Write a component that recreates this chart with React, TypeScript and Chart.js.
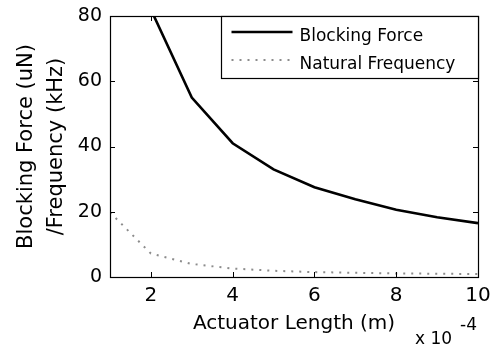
import React, { useEffect, useRef } from "react";
import { Chart, registerables } from "chart.js";

Chart.register(...registerables);

// Actuator length in units of 1e-4 m
const lengths = [1, 2, 3, 4, 5, 6, 7, 8, 9, 10];
const blockingForce = [160, 82, 55, 41, 33, 27.5, 23.8, 20.6, 18.3, 16.5];
const naturalFrequency = [19.8, 7.2, 4.0, 2.6, 1.9, 1.5, 1.3, 1.1, 1.0, 0.9];
const xTicks = [2, 4, 6, 8, 10];
const yTicks = [0, 20, 40, 60, 80];
const seriesLabels = ["Blocking Force", "Natural Frequency"];
const xTitle = "Actuator Length (m)";
const yTitle = ["Blocking Force (uN)", "/Frequency (kHz)"];
const exponentBase = "x 10";
const exponentPower = "-4";

const FONT = "'DejaVu Sans', 'Liberation Sans', sans-serif";

const framePlugin = {
  id: "matlabFrame",
  afterDatasetsDraw(chart: any) {
    const { ctx, chartArea } = chart;
    const { left, right, top, bottom } = chartArea;
    const xs = chart.scales.x;
    const ys = chart.scales.y;
    ctx.save();
    ctx.strokeStyle = "#000";
    ctx.lineWidth = 1;
    // inward ticks
    const tl = 5;
    ctx.beginPath();
    xs.ticks.forEach((t: any) => {
      const px = Math.round(xs.getPixelForValue(t.value)) + 0.5;
      ctx.moveTo(px, bottom);
      ctx.lineTo(px, bottom - tl);
      ctx.moveTo(px, top);
      ctx.lineTo(px, top + tl);
    });
    ys.ticks.forEach((t: any) => {
      const py = Math.round(ys.getPixelForValue(t.value)) + 0.5;
      ctx.moveTo(left, py);
      ctx.lineTo(left + tl, py);
      ctx.moveTo(right, py);
      ctx.lineTo(right - tl, py);
    });
    ctx.stroke();
    // box
    ctx.lineWidth = 1.2;
    ctx.strokeRect(Math.round(left) + 0.5, Math.round(top) + 0.5, Math.round(right - left), Math.round(bottom - top));

    // legend
    const lx0 = Math.round(xs.getPixelForValue(3.72)) + 0.5;
    const ly1 = Math.round(ys.getPixelForValue(61)) + 0.5;
    ctx.fillStyle = "#fff";
    ctx.fillRect(lx0, top + 0.5, right - lx0, ly1 - top);
    ctx.strokeStyle = "#000";
    ctx.lineWidth = 1.2;
    ctx.strokeRect(lx0, Math.round(top) + 0.5, Math.round(right - lx0), ly1 - Math.round(top) - 0.5);
    const ds = chart.data.datasets;
    const rows = [32, 60];
    const textBase = [40.5, 68.5];
    ds.forEach((d: any, i: number) => {
      ctx.save();
      ctx.strokeStyle = d.borderColor;
      ctx.lineWidth = d.borderWidth;
      ctx.setLineDash(d.borderDash || []);
      ctx.beginPath();
      ctx.moveTo(lx0 + 10, rows[i]);
      ctx.lineTo(lx0 + 71, rows[i]);
      ctx.stroke();
      ctx.restore();
      ctx.fillStyle = "#000";
      ctx.font = `17px ${FONT}`;
      ctx.textAlign = "left";
      ctx.textBaseline = "alphabetic";
      ctx.fillText(d.label, lx0 + 78, textBase[i]);
    });

    // exponent label
    ctx.fillStyle = "#000";
    ctx.font = `17px ${FONT}`;
    ctx.textAlign = "left";
    ctx.textBaseline = "alphabetic";
    ctx.fillText(exponentBase, 415, 344);
    ctx.fillText(exponentPower, 460, 330);
    ctx.restore();
  },
};

export default function App() {
  const canvasRef = useRef<HTMLCanvasElement | null>(null);

  useEffect(() => {
    if (!canvasRef.current) return;
    const chart = new Chart(canvasRef.current, {
      type: "line",
      data: {
        datasets: [
          {
            label: seriesLabels[0],
            data: lengths.map((x, i) => ({ x, y: blockingForce[i] })),
            borderColor: "#000",
            borderWidth: 2.6,
            pointRadius: 0,
            fill: false,
            tension: 0,
          },
          {
            label: seriesLabels[1],
            data: lengths.map((x, i) => ({ x, y: naturalFrequency[i] })),
            borderColor: "#8c8c8c",
            borderWidth: 2,
            borderDash: [2, 6],
            pointRadius: 0,
            fill: false,
            tension: 0,
          },
        ],
      },
      options: {
        animation: false,
        responsive: true,
        maintainAspectRatio: false,
        layout: { padding: { left: 0, top: 16, right: 17, bottom: 0 } },
        plugins: {
          legend: { display: false },
          tooltip: { enabled: false },
        },
        scales: {
          x: {
            type: "linear",
            min: 1,
            max: 10,
            grid: { display: false, drawTicks: false },
            border: { display: false },
            afterBuildTicks: (scale: any) => {
              scale.ticks = xTicks.map((v) => ({ value: v }));
            },
            afterFit: (scale: any) => {
              scale.height = 70;
              scale.paddingLeft = 0;
              scale.paddingRight = 0;
            },
            ticks: {
              color: "#000",
              font: { family: FONT, size: 20 },
              padding: 7,
              maxRotation: 0,
              callback: (v: any) => String(v),
            },
            title: {
              display: true,
              text: xTitle,
              color: "#000",
              font: { family: FONT, size: 20, lineHeight: 1.2 },
              padding: { top: 0, bottom: 11 },
            },
          },
          y: {
            type: "linear",
            min: 0,
            max: 80,
            grid: { display: false, drawTicks: false },
            border: { display: false },
            afterBuildTicks: (scale: any) => {
              scale.ticks = yTicks.map((v) => ({ value: v }));
            },
            afterFit: (scale: any) => {
              scale.width = 110;
              scale.paddingTop = 0;
              scale.paddingBottom = 0;
            },
            ticks: {
              color: "#000",
              font: { family: FONT, size: 19 },
              padding: 8,
              callback: (v: any) => String(v),
            },
            title: {
              display: true,
              text: yTitle,
              color: "#000",
              font: { family: FONT, size: 21, lineHeight: 1.43 },
              padding: { top: 12, bottom: 0 },
            },
          },
        },
      },
      plugins: [framePlugin],
    });
    return () => chart.destroy();
  }, []);

  return (
    <div style={{ position: "fixed", left: 0, top: 0, width: 495, height: 347, background: "#fff" }}>
      <canvas ref={canvasRef} />
    </div>
  );
}
